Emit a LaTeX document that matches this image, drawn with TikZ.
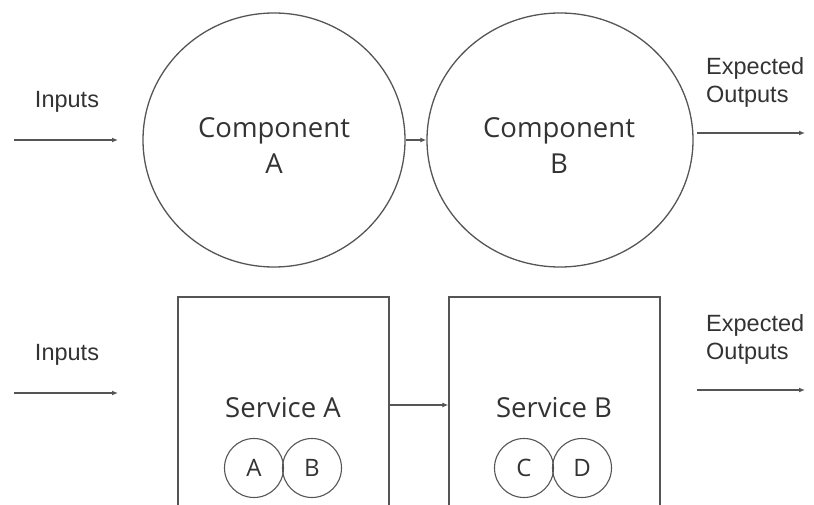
\documentclass[tikz,border=0pt]{standalone}
\usepackage{fontspec}
\setmainfont{Open Sans}
\newfontfamily\arialfont{Liberation Sans}
\usetikzlibrary{shapes.geometric,arrows.meta,calc}
\definecolor{ln}{HTML}{555555}
\definecolor{tx}{HTML}{333333}
\begin{document}
\begin{tikzpicture}[x=1pt,y=-1pt,
  comp/.style={draw=ln,line width=1.3pt,ellipse,inner sep=0pt},
  comptext/.style={text=tx,align=center,inner sep=0pt,font=\fontsize{27.5}{36}\selectfont},
  svc/.style={draw=ln,line width=1.3pt,rectangle,inner sep=0pt},
  small/.style={draw=ln,line width=1.1pt,circle,inner sep=0pt,minimum size=59pt,text=tx,font=\fontsize{24}{28}\selectfont},
  lbl/.style={text=tx,align=left,font=\arialfont\fontsize{23.5}{28}\selectfont,inner sep=0pt},
  svclbl/.style={text=tx,font=\fontsize{27.5}{30}\selectfont,inner sep=0pt},
  arr/.style={draw=ln,line width=1.2pt,-{Latex[length=6pt,width=5pt]}}]
\useasboundingbox (0,0) rectangle (814,505);
\clip (0,0) rectangle (814,505);
% top row
\node[comp,minimum width=262pt,minimum height=254pt] (ca) at (274,140) {};
\node[comp,minimum width=266pt,minimum height=254pt] (cb) at (560,140) {};
\node[comptext] (cat) at (274,146) {Component\\A};
\node[comptext] (cbt) at (559,146) {Component\\B};
\coordinate (in1s) at (14,140);
\coordinate (in1e) at (118,140);
\coordinate (out1s) at (697,133);
\coordinate (out1e) at (805,133);
\node[lbl,anchor=center] (inl1) at (67,102) {Inputs};
\node[lbl,anchor=west] (outl1) at (706,82) {Expected\\Outputs};
\draw[arr] (in1s) -- (in1e);
\draw[arr] (ca) -- (cb);
\draw[arr] (out1s) -- (out1e);
% bottom row
\node[svc,minimum width=211pt,minimum height=260pt] (sa) at (283.5,427) {};
\node[svc,minimum width=211pt,minimum height=260pt] (sb) at (554.5,427) {};
\node[svclbl] (sal) at (283,408) {Service A};
\node[svclbl] (sbl) at (554,408) {Service B};
\node[small] (a) at (254,468) {A};
\node[small] (b) at (312,468) {B};
\node[small] (c) at (524,468) {C};
\node[small] (d) at (582,468) {D};
\coordinate (in2s) at (14,393);
\coordinate (in2e) at (118,393);
\coordinate (out2s) at (697,390);
\coordinate (out2e) at (805,390);
\node[lbl,anchor=center] (inl2) at (67,355) {Inputs};
\node[lbl,anchor=west] (outl2) at (706,339) {Expected\\Outputs};
\draw[arr] (in2s) -- (in2e);
\draw[arr] (sa.east |- 0,405) -- (sb.west |- 0,405);
\draw[arr] (out2s) -- (out2e);
\end{tikzpicture}
\end{document}
